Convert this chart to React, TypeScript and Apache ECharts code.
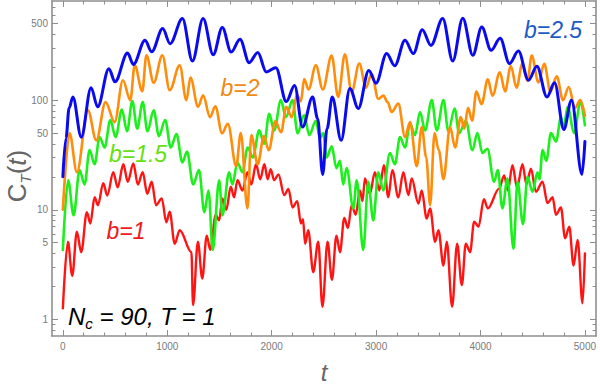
import React, { useEffect, useRef } from 'react';
import * as echarts from 'echarts';

// [t, C_T(t)]
const redPts: number[][] = [
  [0, 1.26], [48, 5.1], [90, 2.5], [134, 6.3], [176, 4.1], [230, 9.5], [263, 7.5], [304, 13], [336, 11],
  [387, 17.5], [425, 13.5], [483, 22], [525, 16], [579, 26], [622, 18], [675, 26.5], [718, 17], [765, 22],
  [808, 14], [851, 18], [893, 11], [947, 12.7], [991, 7.7], [1023, 9.6], [1071, 4.9], [1119, 6.5],
  [1231, 4.1], [1247, 1.35], [1293, 5.1], [1335, 2.36], [1378, 5.8], [1412, 4.3], [1464, 9], [1497, 8],
  [1528, 12.7], [1565, 10], [1608, 16.2], [1640, 13], [1672, 18.6], [1720, 15], [1768, 22], [1805, 17],
  [1850, 26], [1890, 19], [1930, 26], [1962, 19], [1990, 23.5], [2024, 18.6], [2065, 21], [2120, 13.6],
  [2160, 15.5], [2200, 10.5], [2245, 12], [2280, 7.5], [2300, 8.2], [2320, 4.9], [2350, 6.5], [2398, 2.7],
  [2446, 5.1], [2486, 1.3], [2535, 5.1], [2577, 2.3], [2620, 5.8], [2654, 4.1], [2695, 8.4], [2730, 6.8],
  [2766, 11], [2805, 9], [2845, 15], [2870, 12], [2893, 19.3], [2940, 14], [2989, 22], [3030, 15],
  [3075, 25.5], [3117, 13], [3155, 23], [3213, 13], [3261, 22], [3309, 13.6], [3341, 19.3], [3405, 11.4],
  [3437, 15], [3485, 8.3], [3517, 10.3], [3565, 5.1], [3597, 6.5], [3645, 3.1], [3677, 5.1], [3728, 1.3],
  [3776, 4.9], [3821, 2.05], [3859, 4.9], [3900, 4.1], [3939, 7.8], [3981, 7], [4032, 12.5], [4070, 10.3],
  [4178, 15.6], [4226, 20.6], [4262, 15], [4306, 25.5], [4350, 16], [4402, 26], [4440, 17], [4483, 23.7],
  [4531, 14.6], [4594, 18], [4642, 11.5], [4690, 13], [4723, 9], [4770, 10.5], [4810, 5.5], [4850, 7],
  [4891, 3.1], [4930, 5.3], [4977, 1.4], [5000, 4],
];

const greenPts: number[][] = [
  [0, 4.3], [50, 18.6], [103, 8.9], [160, 23], [208, 17], [256, 35], [304, 26], [352, 46], [400, 37],
  [455, 66], [505, 46], [565, 82], [615, 52], [665, 98], [712, 55], [765, 96], [810, 52], [870, 81],
  [920, 47], [980, 66], [1033, 37], [1088, 49], [1145, 27], [1189, 34], [1248, 17], [1304, 23],
  [1355, 9.5], [1395, 15], [1435, 4.3], [1497, 18.6], [1528, 8.9], [1592, 22], [1624, 17], [1672, 27],
  [1720, 22], [1770, 37], [1820, 30], [1880, 53], [1928, 40], [1976, 75], [2024, 53], [2088, 100],
  [2136, 70], [2200, 100], [2248, 50], [2311, 73], [2360, 48], [2423, 65], [2462, 45], [2493, 50],
  [2526, 30], [2575, 38], [2620, 24], [2654, 28], [2685, 17], [2718, 24], [2782, 10.3], [2814, 18.6],
  [2877, 4.3], [2925, 18], [2973, 8], [3021, 22], [3069, 15], [3133, 33], [3180, 26], [3229, 46],
  [3277, 37], [3325, 61], [3373, 48], [3421, 78], [3469, 53], [3533, 100], [3581, 53], [3645, 100],
  [3692, 52], [3752, 84], [3795, 50], [3859, 65], [3922, 35], [3970, 50], [4018, 33], [4066, 36],
  [4130, 18], [4165, 23], [4210, 10.3], [4258, 19.3], [4316, 4.4], [4354, 18], [4407, 7.4], [4450, 20],
  [4498, 14.6], [4546, 22], [4565, 19], [4594, 35], [4630, 28], [4675, 50], [4723, 42], [4771, 70],
  [4795, 55], [4834, 87], [4898, 50], [4955, 95], [5000, 59],
];

const orangePts: number[][] = [
  [0, 10], [64, 50], [134, 22], [240, 81], [320, 43], [409, 96], [496, 63], [575, 152], [646, 100],
  [688, 208], [761, 121], [800, 257], [870, 144], [953, 257], [1023, 123], [1119, 208], [1183, 100],
  [1222, 161], [1295, 87], [1343, 111], [1410, 70], [1460, 88], [1525, 50], [1580, 61], [1660, 25],
  [1704, 50], [1768, 10.3], [1805, 48], [1866, 26], [1925, 47], [1972, 35], [2035, 64], [2090, 51],
  [2140, 87], [2192, 70], [2242, 112], [2280, 98], [2311, 156], [2353, 125], [2423, 208], [2490, 125],
  [2574, 255], [2637, 107], [2701, 262], [2766, 119], [2839, 216], [2903, 130], [2957, 174], [3021, 103],
  [3070, 110], [3110, 96], [3149, 78], [3213, 93], [3277, 46], [3325, 63], [3389, 25], [3437, 57],
  [3480, 30], [3517, 11], [3560, 50], [3600, 35], [3645, 19], [3708, 57], [3757, 37], [3811, 70],
  [3845, 55], [3880, 85], [3920, 65], [3960, 120], [4010, 92], [4070, 155], [4115, 110], [4185, 180],
  [4235, 120], [4290, 205], [4345, 130], [4400, 215], [4450, 150], [4490, 255], [4555, 145], [4610, 215],
  [4670, 120], [4730, 165], [4790, 100], [4845, 132], [4905, 85], [4955, 100], [5000, 72],
];

const bluePts: number[][] = [
  [0, 20], [30, 45], [60, 85], [96, 107], [176, 46], [270, 130], [333, 87], [441, 194], [499, 147],
  [620, 269], [675, 212], [787, 352], [850, 276], [956, 450], [1027, 328], [1145, 555], [1241, 228],
  [1343, 555], [1440, 260], [1527, 460], [1612, 275], [1697, 360], [1784, 220], [1867, 272], [1948, 181],
  [2040, 198], [2140, 97], [2219, 136], [2296, 57], [2392, 107], [2440, 68], [2488, 21], [2530, 55],
  [2580, 107], [2665, 43], [2749, 128], [2829, 84], [2930, 187], [2999, 143], [3101, 266], [3178, 206],
  [3277, 352], [3357, 266], [3442, 440], [3525, 316], [3638, 555], [3734, 228], [3830, 560], [3926, 257],
  [4012, 465], [4101, 285], [4188, 367], [4277, 216], [4363, 281], [4459, 152], [4540, 204], [4636, 107],
  [4709, 144], [4798, 54], [4871, 100], [4972, 21], [5000, 42],
];

const xMajorTicks = [0, 1000, 2000, 3000, 4000, 5000];
const xMinorTicks = [200, 400, 600, 800, 1200, 1400, 1600, 1800, 2200, 2400, 2600, 2800, 3200, 3400, 3600, 3800, 4200, 4400, 4600, 4800];
const yMajorTicks = [1, 5, 10, 50, 100, 500];
const yMinorTicks = [0.8, 0.9, 2, 3, 4, 6, 7, 8, 9, 20, 30, 40, 60, 70, 80, 90, 200, 300, 400, 600, 700];

const FONT = '"Liberation Sans", Arial, sans-serif';
const FRAME = '#8e8e8e';
const XMIN = -104;
const XMAX = 5106;
const YMIN = -0.152;
const YMAX = 2.905;

const lg = (a: number[]) => a.map((v) => Math.log10(v));
const toLog = (pts: number[][]) => pts.map(([t, v]) => [t, Math.log10(v)]);

function xAxisDef(grid: number, pos: string, ticks: number[], len: number, labels: boolean, line: boolean) {
  return {
    type: 'value', gridIndex: grid, position: pos, min: XMIN, max: XMAX,
    axisLine: { show: line, onZero: false, lineStyle: { color: FRAME, width: 1.6 } },
    axisTick: { show: true, inside: true, length: len, customValues: ticks, lineStyle: { color: FRAME, width: 1 } },
    axisLabel: labels
      ? {
          show: true, customValues: ticks, color: '#7a7a7a', fontSize: 10, fontFamily: FONT, margin: 5,
          formatter: (v: number) => String(Math.round(v)),
        }
      : { show: false },
    splitLine: { show: false },
  };
}
function yAxisDef(grid: number, pos: string, ticks: number[], len: number, labels: boolean, line: boolean) {
  return {
    type: 'value', gridIndex: grid, position: pos, min: YMIN, max: YMAX,
    axisLine: { show: line, onZero: false, lineStyle: { color: FRAME, width: 1.6 } },
    axisTick: { show: true, inside: true, length: len, customValues: lg(ticks), lineStyle: { color: FRAME, width: 1 } },
    axisLabel: labels
      ? {
          show: true, customValues: lg(ticks), color: '#7a7a7a', fontSize: 10, fontFamily: FONT, margin: 4,
          formatter: (v: number) => String(Math.round(Math.pow(10, v))),
        }
      : { show: false },
    splitLine: { show: false },
  };
}

export default function App() {
  const ref = useRef<HTMLDivElement>(null);
  useEffect(() => {
    if (!ref.current) return;
    const chart = echarts.init(ref.current, null, { renderer: 'svg' });
    const gridBox = { left: 52, right: 4, top: 1, bottom: 51 };
    const lineSeries = (pts: number[][], color: string, width: number, z: number) => ({
      type: 'line', xAxisIndex: 0, yAxisIndex: 0, data: toLog(pts), showSymbol: false,
      smooth: 0.35, smoothMonotone: 'x', silent: true, z,
      lineStyle: { color, width, join: 'round', cap: 'round' },
    });
    chart.setOption({
      animation: false,
      backgroundColor: '#ffffff',
      grid: [{ ...gridBox }, { ...gridBox }],
      xAxis: [
        xAxisDef(0, 'bottom', xMajorTicks, 6, true, true),
        xAxisDef(0, 'top', xMajorTicks, 6, false, true),
        xAxisDef(1, 'bottom', xMinorTicks, 3.5, false, false),
        xAxisDef(1, 'top', xMinorTicks, 3.5, false, false),
      ],
      yAxis: [
        yAxisDef(0, 'left', yMajorTicks, 6, true, true),
        yAxisDef(0, 'right', yMajorTicks, 6, false, true),
        yAxisDef(1, 'left', yMinorTicks, 3.5, false, false),
        yAxisDef(1, 'right', yMinorTicks, 3.5, false, false),
      ],
      series: [
        lineSeries(redPts, '#ff1414', 2.4, 2),
        lineSeries(greenPts, '#1cf01c', 2.6, 3),
        lineSeries(orangePts, '#ff8c0a', 2.6, 4),
        lineSeries(bluePts, '#0a0aee', 3, 5),
      ],
      graphic: [
        {
          type: 'text', x: 553, y: 30, z: 20,
          style: { text: 'b=2.5', font: `italic 23px ${FONT}`, fill: '#1a5cc4', textAlign: 'center', textVerticalAlign: 'middle' },
        },
        {
          type: 'text', x: 240, y: 88, z: 20,
          style: { text: 'b=2', font: `italic 23px ${FONT}`, fill: '#f08a12', textAlign: 'center', textVerticalAlign: 'middle' },
        },
        {
          type: 'text', x: 138, y: 154, z: 20,
          style: { text: 'b=1.5', font: `italic 23px ${FONT}`, fill: '#66e010', textAlign: 'center', textVerticalAlign: 'middle' },
        },
        {
          type: 'text', x: 126, y: 231, z: 20,
          style: { text: 'b=1', font: `italic 23px ${FONT}`, fill: '#f01a1a', textAlign: 'center', textVerticalAlign: 'middle' },
        },
        {
          type: 'text', x: 68, y: 316, z: 20,
          style: {
            text: '{m|N}{s|c}{m| = 90, T = 1}',
            textAlign: 'left', textVerticalAlign: 'middle',
            rich: {
              m: { fontSize: 24, fontStyle: 'italic', fontFamily: FONT, fill: '#000', lineHeight: 30 },
              s: { fontSize: 15, fontStyle: 'italic', fontFamily: FONT, fill: '#000', lineHeight: 15, verticalAlign: 'bottom' },
            },
          },
        },
        {
          type: 'text', x: 324, y: 372, z: 20,
          style: { text: 't', font: `italic 24px ${FONT}`, fill: '#666', textAlign: 'center', textVerticalAlign: 'middle' },
        },
        {
          type: 'text', x: 17, y: 176, z: 20, rotation: Math.PI / 2,
          style: {
            text: '{c|C}{s|T}{p|(}{i|t}{p|)}',
            textAlign: 'center', textVerticalAlign: 'middle',
            rich: {
              c: { fontSize: 26, fontFamily: FONT, fill: '#666', lineHeight: 32 },
              s: { fontSize: 15, fontStyle: 'italic', fontFamily: FONT, fill: '#666', lineHeight: 15, verticalAlign: 'bottom' },
              p: { fontSize: 26, fontFamily: FONT, fill: '#666', lineHeight: 32 },
              i: { fontSize: 26, fontStyle: 'italic', fontFamily: FONT, fill: '#666', lineHeight: 32 },
            },
          },
        },
      ],
    });
    return () => chart.dispose();
  }, []);
  return <div ref={ref} style={{ position: 'fixed', left: 0, top: 0, width: 600, height: 387 }} />;
}
